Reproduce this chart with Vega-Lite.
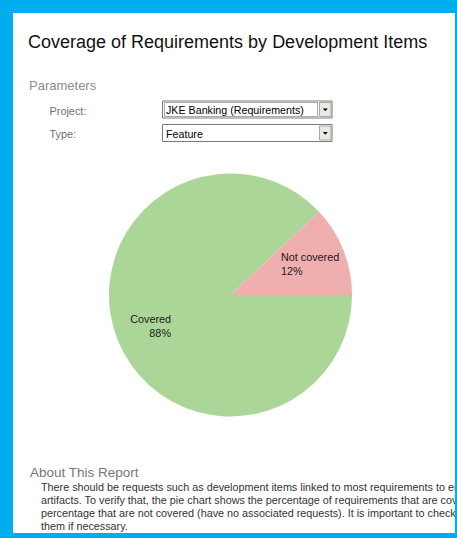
{
  "$schema": "https://vega.github.io/schema/vega-lite/v6.json",
  "width": 442,
  "height": 520,
  "autosize": "none",
  "padding": {"left": 13, "top": 13, "right": 2, "bottom": 5},
  "background": "#00aeef",
  "config": {
    "view": {"fill": "#ffffff", "stroke": null},
    "axis": {"disable": true},
    "text": {"font": "Liberation Sans"}
  },
  "layer": [
    {
      "data": {"values": [{"text": "Coverage of Requirements by Development Items"}]},
      "mark": {"type": "text", "align": "left", "baseline": "alphabetic", "fontSize": 18, "fill": "#111111"},
      "encoding": {
        "x": {"datum": 28, "type": "quantitative", "scale": {"domain": [13, 455], "nice": false, "zero": false}, "axis": null},
        "y": {"datum": 48, "type": "quantitative", "scale": {"domain": [13, 533], "nice": false, "zero": false, "reverse": true}, "axis": null},
        "text": {"field": "text"}
      }
    },
    {
      "data": {"values": [{"text": "Parameters"}]},
      "mark": {"type": "text", "align": "left", "baseline": "alphabetic", "fontSize": 13, "fill": "#8c8c8c"},
      "encoding": {
        "x": {"datum": 29, "type": "quantitative", "scale": {"domain": [13, 455], "nice": false, "zero": false}, "axis": null},
        "y": {"datum": 90.3, "type": "quantitative", "scale": {"domain": [13, 533], "nice": false, "zero": false, "reverse": true}, "axis": null},
        "text": {"field": "text"}
      }
    },
    {
      "data": {"values": [{"text": ["Project:", "Type:"]}]},
      "mark": {"type": "text", "align": "left", "baseline": "alphabetic", "fontSize": 10.9, "lineHeight": 23.8, "fill": "#707070"},
      "encoding": {
        "x": {"datum": 49.5, "type": "quantitative", "scale": {"domain": [13, 455], "nice": false, "zero": false}, "axis": null},
        "y": {"datum": 114.5, "type": "quantitative", "scale": {"domain": [13, 533], "nice": false, "zero": false, "reverse": true}, "axis": null},
        "text": {"field": "text"}
      }
    },
    {
      "data": {"values": [{"box": "Project"}]},
      "mark": {"type": "rect", "fill": "#ffffff", "stroke": "#7a7a7a", "strokeWidth": 1},
      "encoding": {
        "x": {"datum": 162.5, "type": "quantitative", "scale": {"domain": [13, 455], "nice": false, "zero": false}, "axis": null},
        "x2": {"datum": 332},
        "y": {"datum": 101, "type": "quantitative", "scale": {"domain": [13, 533], "nice": false, "zero": false, "reverse": true}, "axis": null},
        "y2": {"datum": 118}
      }
    },
    {
      "data": {"values": [{"box": "Type"}]},
      "mark": {"type": "rect", "fill": "#ffffff", "stroke": "#7a7a7a", "strokeWidth": 1},
      "encoding": {
        "x": {"datum": 162.5, "type": "quantitative", "scale": {"domain": [13, 455], "nice": false, "zero": false}, "axis": null},
        "x2": {"datum": 332},
        "y": {"datum": 124.5, "type": "quantitative", "scale": {"domain": [13, 533], "nice": false, "zero": false, "reverse": true}, "axis": null},
        "y2": {"datum": 141.5}
      }
    },
    {
      "data": {"values": [{"button": "Project"}]},
      "mark": {"type": "rect", "fill": "#ebe9e2", "stroke": "#a8a8a8", "strokeWidth": 1},
      "encoding": {
        "x": {"datum": 319.5, "type": "quantitative", "scale": {"domain": [13, 455], "nice": false, "zero": false}, "axis": null},
        "x2": {"datum": 331},
        "y": {"datum": 102.5, "type": "quantitative", "scale": {"domain": [13, 533], "nice": false, "zero": false, "reverse": true}, "axis": null},
        "y2": {"datum": 116.5}
      }
    },
    {
      "data": {"values": [{"button": "Type"}]},
      "mark": {"type": "rect", "fill": "#ebe9e2", "stroke": "#a8a8a8", "strokeWidth": 1},
      "encoding": {
        "x": {"datum": 319.5, "type": "quantitative", "scale": {"domain": [13, 455], "nice": false, "zero": false}, "axis": null},
        "x2": {"datum": 331},
        "y": {"datum": 126, "type": "quantitative", "scale": {"domain": [13, 533], "nice": false, "zero": false, "reverse": true}, "axis": null},
        "y2": {"datum": 140}
      }
    },
    {
      "data": {"values": [{"focus": "Project"}]},
      "mark": {"type": "rect", "fill": null, "fillOpacity": 0, "stroke": "#555555", "strokeWidth": 1, "strokeDash": [1, 1]},
      "encoding": {
        "x": {"datum": 164.5, "type": "quantitative", "scale": {"domain": [13, 455], "nice": false, "zero": false}, "axis": null},
        "x2": {"datum": 317.5},
        "y": {"datum": 102.5, "type": "quantitative", "scale": {"domain": [13, 533], "nice": false, "zero": false, "reverse": true}, "axis": null},
        "y2": {"datum": 116.5}
      }
    },
    {
      "data": {"values": [{"arrow": "Project"}]},
      "mark": {"type": "point", "shape": "M-1,-0.5L1,-0.5L0,0.6Z", "size": 25, "filled": true, "color": "#000000", "opacity": 1},
      "encoding": {
        "x": {"datum": 325.3, "type": "quantitative", "scale": {"domain": [13, 455], "nice": false, "zero": false}, "axis": null},
        "y": {"datum": 109.8, "type": "quantitative", "scale": {"domain": [13, 533], "nice": false, "zero": false, "reverse": true}, "axis": null}
      }
    },
    {
      "data": {"values": [{"arrow": "Type"}]},
      "mark": {"type": "point", "shape": "M-1,-0.5L1,-0.5L0,0.6Z", "size": 25, "filled": true, "color": "#000000", "opacity": 1},
      "encoding": {
        "x": {"datum": 325.3, "type": "quantitative", "scale": {"domain": [13, 455], "nice": false, "zero": false}, "axis": null},
        "y": {"datum": 133.3, "type": "quantitative", "scale": {"domain": [13, 533], "nice": false, "zero": false, "reverse": true}, "axis": null}
      }
    },
    {
      "data": {"values": [{"text": ["JKE Banking (Requirements)", "Feature"]}]},
      "mark": {"type": "text", "align": "left", "baseline": "alphabetic", "fontSize": 10.7, "lineHeight": 23.8, "fill": "#000000"},
      "encoding": {
        "x": {"datum": 166, "type": "quantitative", "scale": {"domain": [13, 455], "nice": false, "zero": false}, "axis": null},
        "y": {"datum": 114, "type": "quantitative", "scale": {"domain": [13, 533], "nice": false, "zero": false, "reverse": true}, "axis": null},
        "text": {"field": "text"}
      }
    },
    {
      "data": {"values": [
        {"status": "Covered", "share": 88, "label": ["Covered", "88%"]},
        {"status": "Not covered", "share": 12, "label": ["Not covered", "12%"]}
      ]},
      "layer": [
        {
          "mark": {"type": "arc", "outerRadius": 121.5},
          "encoding": {
            "x": {"datum": 230.5, "type": "quantitative", "scale": {"domain": [13, 455], "nice": false, "zero": false}, "axis": null},
            "y": {"datum": 295, "type": "quantitative", "scale": {"domain": [13, 533], "nice": false, "zero": false, "reverse": true}, "axis": null},
            "theta": {"field": "share", "type": "quantitative", "stack": true, "scale": {"range": [1.5707963, 7.8539816]}},
            "color": {"field": "status", "type": "nominal", "scale": {"domain": ["Covered", "Not covered"], "range": ["#acd697", "#f0afaf"]}, "legend": null}
          }
        },
        {
          "mark": {"type": "text", "radius": 54.3, "align": "left", "baseline": "alphabetic", "dy": -13.8, "fontSize": 10.8, "lineHeight": 13.4, "fill": "#1a1a1a"},
          "encoding": {
            "x": {"datum": 230.5, "type": "quantitative", "scale": {"domain": [13, 455], "nice": false, "zero": false}, "axis": null},
            "y": {"datum": 295, "type": "quantitative", "scale": {"domain": [13, 533], "nice": false, "zero": false, "reverse": true}, "axis": null},
            "theta": {"field": "share", "type": "quantitative", "stack": true, "scale": {"range": [1.5707963, 7.8539816]}},
            "detail": {"field": "status", "type": "nominal"},
            "text": {"condition": {"test": "datum.status === 'Not covered'", "field": "label"}, "value": ""}
          }
        },
        {
          "mark": {"type": "text", "radius": 64, "align": "right", "baseline": "alphabetic", "dy": 4.7, "fontSize": 10.8, "lineHeight": 13.4, "fill": "#1a1a1a"},
          "encoding": {
            "x": {"datum": 230.5, "type": "quantitative", "scale": {"domain": [13, 455], "nice": false, "zero": false}, "axis": null},
            "y": {"datum": 295, "type": "quantitative", "scale": {"domain": [13, 533], "nice": false, "zero": false, "reverse": true}, "axis": null},
            "theta": {"field": "share", "type": "quantitative", "stack": true, "scale": {"range": [1.5707963, 7.8539816]}},
            "detail": {"field": "status", "type": "nominal"},
            "text": {"condition": {"test": "datum.status === 'Covered'", "field": "label"}, "value": ""}
          }
        }
      ]
    },
    {
      "data": {"values": [{"text": "About This Report"}]},
      "mark": {"type": "text", "align": "left", "baseline": "alphabetic", "fontSize": 13.5, "fill": "#777777"},
      "encoding": {
        "x": {"datum": 30, "type": "quantitative", "scale": {"domain": [13, 455], "nice": false, "zero": false}, "axis": null},
        "y": {"datum": 477.3, "type": "quantitative", "scale": {"domain": [13, 533], "nice": false, "zero": false, "reverse": true}, "axis": null},
        "text": {"field": "text"}
      }
    },
    {
      "data": {"values": [{"text": [
        "\u00a0\u00a0\u00a0There should be requests such as development items linked to most requirements to ensure that they are implemented by",
        "artifacts.  To verify that, the pie chart shows the percentage of requirements that are covered and the",
        "percentage that are not covered (have no associated requests). It is important to check those requirements and link",
        "them if necessary."
      ]}]},
      "mark": {"type": "text", "align": "left", "baseline": "alphabetic", "fontSize": 10.8, "lineHeight": 13.3, "fill": "#333333", "clip": true},
      "encoding": {
        "x": {"datum": 41, "type": "quantitative", "scale": {"domain": [13, 455], "nice": false, "zero": false}, "axis": null},
        "y": {"datum": 490.5, "type": "quantitative", "scale": {"domain": [13, 533], "nice": false, "zero": false, "reverse": true}, "axis": null},
        "text": {"field": "text"}
      }
    }
  ]
}
